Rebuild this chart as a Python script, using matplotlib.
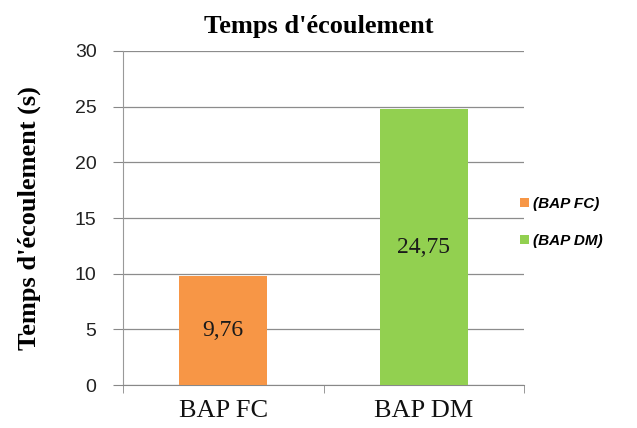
import matplotlib.pyplot as plt
from matplotlib.patches import Patch

categories = ["BAP FC", "BAP DM"]
values = [9.76, 24.75]
value_labels = ["9,76", "24,75"]
legend_labels = ["(BAP FC)", "(BAP DM)"]
colors = ["#F79646", "#92D050"]
yticks = [0, 5, 10, 15, 20, 25, 30]

fig = plt.figure(figsize=(6.37, 4.28), dpi=100)
ax = fig.add_axes([0.193, 0.1, 0.63, 0.781])

x = range(len(categories))
bars = ax.bar(x, values, width=0.44, color=colors, zorder=3)

# étiquettes au centre des barres
for b, lab in zip(bars, value_labels):
    ax.text(b.get_x() + b.get_width() / 2, b.get_height() / 2, lab,
            ha="center", va="center", fontsize=17, family="Liberation Serif",
            color="#1a1a1a", zorder=4)

ax.set_xlim(-0.5, 1.5)
ax.set_ylim(0, 30)
ax.set_yticks(yticks)
ax.set_yticklabels([str(t) for t in yticks], fontsize=14, family="Liberation Sans", color="#222222")
ax.set_xticks(list(x))
ax.set_xticklabels(categories, fontsize=19, family="Liberation Serif", color="#111111")
ax.tick_params(axis="x", length=0, pad=11)
ax.tick_params(axis="y", length=7, color="#888888", pad=12)
ax.grid(axis="y", color="#8c8c8c", linewidth=0.9, zorder=0)

# petites graduations entre catégories
ax.set_xticks([-0.5, 0.5, 1.5], minor=True)
ax.tick_params(axis="x", which="minor", length=6, color="#888888")

for s in ["top", "right"]:
    ax.spines[s].set_visible(False)
ax.spines["left"].set_color("#999999")
ax.spines["bottom"].set_color("#888888")

ax.set_ylabel("Temps d'écoulement (s)", fontsize=19, fontweight="bold",
              family="Liberation Serif")
ax.yaxis.set_label_coords(-0.203, 0.5)
fig.text(0.5, 0.938, "Temps d'écoulement", ha="center", va="center", fontsize=19,
         fontweight="bold", family="Liberation Serif")

handles = [Patch(facecolor=c) for c in colors]
leg = fig.legend(handles, legend_labels, loc="center left", bbox_to_anchor=(0.795, 0.48),
                 frameon=False, handlelength=0.55, handleheight=0.55, handletextpad=0.3,
                 labelspacing=1.5,
                 prop={"family": "Liberation Sans", "style": "italic", "weight": "bold", "size": 11})

plt.savefig("out.png", dpi=100)
plt.close()
